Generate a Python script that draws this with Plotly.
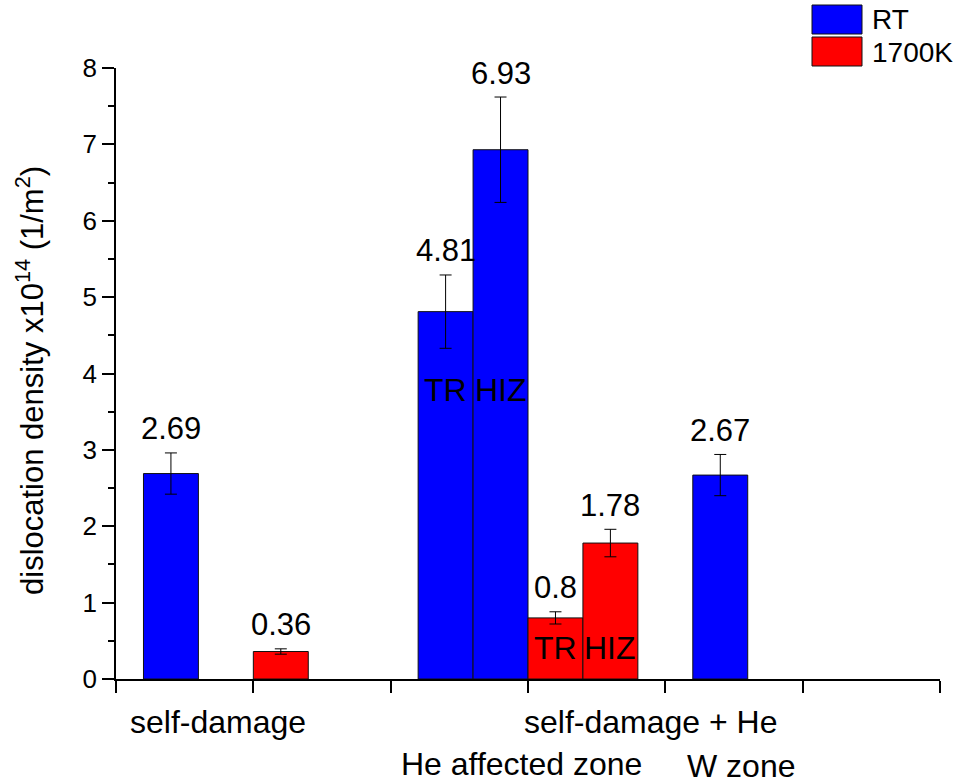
import plotly.graph_objects as go

# ---- data -------------------------------------------------------------
series_names = ["RT", "1700K"]

rt_labels = ["self-damage", "TR", "HIZ", "W zone"]
rt_values = [2.69, 4.81, 6.93, 2.67]
rt_errors = [0.27, 0.48, 0.69, 0.27]

hot_labels = ["self-damage", "TR", "HIZ"]
hot_values = [0.36, 0.80, 1.78]
hot_errors = [0.035, 0.08, 0.18]

y_tick_values = [0, 1, 2, 3, 4, 5, 6, 7, 8]

group_labels = ["self-damage", "self-damage + He"]
zone_labels = ["He affected zone", "W zone"]

# ---- layout constants -------------------------------------------------
W, H = 960, 783
ML, MR, MT, MB = 116, 20, 68, 104
PW, PH = W - ML - MR, H - MT - MB

BLUE = "#0000FF"
RED = "#FF0000"
FONT = "Liberation Sans, Arial, sans-serif"

# slot positions of the bars along the x axis (one unit per tick interval)
rt_x = [0.4, 2.4, 2.8, 4.4]
hot_x = [1.2, 3.2, 3.6]
BAR_W = 0.4


def px_x(p):
    return (p - ML) / PW


def px_y(p):
    return (H - MB - p) / PH


fig = go.Figure()

fig.add_trace(go.Bar(
    x=rt_x, y=rt_values, width=BAR_W, name=series_names[0],
    marker=dict(color=BLUE, line=dict(color="#111111", width=1)),
    error_y=dict(type="data", array=rt_errors, color="black",
                 thickness=1, width=6),
    showlegend=False,
))
fig.add_trace(go.Bar(
    x=hot_x, y=hot_values, width=BAR_W, name=series_names[1],
    marker=dict(color=RED, line=dict(color="#111111", width=1)),
    error_y=dict(type="data", array=hot_errors, color="black",
                 thickness=1, width=6),
    showlegend=False,
))

annotations = []

# value labels above the error bars
for xs, vals, errs in ((rt_x, rt_values, rt_errors), (hot_x, hot_values, hot_errors)):
    for x, v, e in zip(xs, vals, errs):
        annotations.append(dict(
            x=x, y=v + e, xref="x", yref="y", text=f"{v:g}",
            showarrow=False, yanchor="middle", yshift=24,
            font=dict(family=FONT, size=31, color="black"),
        ))

# TR / HIZ tags written inside the bars
for xs, vals, labels, ytag in ((rt_x, rt_values, rt_labels, 3.78),
                               (hot_x, hot_values, hot_labels, 0.4)):
    for x, v, lab in zip(xs, vals, labels):
        if lab in ("TR", "HIZ"):
            annotations.append(dict(
                x=x, y=ytag, xref="x", yref="y", text=lab,
                showarrow=False, yanchor="middle",
                font=dict(family=FONT, size=32, color="black"),
            ))

# group labels under the axis
label_font = dict(family=FONT, size=32, color="black")
annotations.append(dict(x=0.74, y=px_y(722), xref="x", yref="paper",
                        text=group_labels[0], showarrow=False, yanchor="middle",
                        font=label_font))
annotations.append(dict(x=3.89, y=px_y(722), xref="x", yref="paper",
                        text=group_labels[1], showarrow=False, yanchor="middle",
                        font=label_font))
annotations.append(dict(x=2.95, y=px_y(764), xref="x", yref="paper",
                        text=zone_labels[0], showarrow=False, yanchor="middle",
                        font=label_font))
annotations.append(dict(x=4.55, y=px_y(766), xref="x", yref="paper",
                        text=zone_labels[1], showarrow=False, yanchor="middle",
                        font=label_font))

# y axis title
annotations.append(dict(
    x=px_x(30), y=px_y(381), xref="paper", yref="paper",
    text="dislocation density x10<sup>14</sup> (1/m<sup>2</sup>)",
    textangle=-90, showarrow=False, xanchor="center", yanchor="middle",
    font=dict(family=FONT, size=31, color="black"),
))

# legend: colour boxes and names
shapes = []
for i, (name, col) in enumerate(zip(series_names, (BLUE, RED))):
    top = 5 + i * 32
    shapes.append(dict(type="rect", xref="paper", yref="paper",
                       x0=px_x(812), x1=px_x(862), y0=px_y(top + 29), y1=px_y(top),
                       fillcolor=col, line=dict(color="#111111", width=1)))
    annotations.append(dict(x=px_x(870), y=px_y(top + 15), xref="paper", yref="paper",
                            text=name, showarrow=False, xanchor="left", yanchor="middle",
                            font=dict(family=FONT, size=28, color="black")))

fig.update_layout(
    width=W, height=H,
    margin=dict(l=ML, r=MR, t=MT, b=MB, pad=0),
    paper_bgcolor="white", plot_bgcolor="white",
    barmode="overlay",
    annotations=annotations,
    shapes=shapes,
    showlegend=False,
    xaxis=dict(
        range=[0, 6], tickmode="array", tickvals=[0, 1, 2, 3, 4, 5, 6],
        showticklabels=False, ticks="outside", ticklen=12, tickwidth=1.5,
        tickcolor="black", showline=True, linecolor="black", linewidth=1.5,
        showgrid=False, zeroline=False,
    ),
    yaxis=dict(
        range=[0, 8], tickmode="array", tickvals=y_tick_values,
        ticktext=[str(v) for v in y_tick_values],
        ticks="outside", ticklen=12, tickwidth=1.5, tickcolor="black",
        showline=True, linecolor="black", linewidth=1.5,
        showgrid=False, zeroline=False,
        tickfont=dict(family=FONT, size=26, color="black"),
        minor=dict(ticks="outside", ticklen=6, tickwidth=1.5, tickcolor="black",
                   dtick=0.5, showgrid=False),
    ),
)

fig.write_html("out.html")
